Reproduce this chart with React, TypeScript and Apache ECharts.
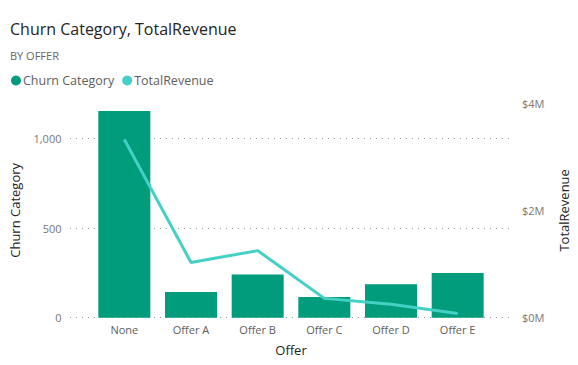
import React, { useEffect, useRef } from "react";
import * as echarts from "echarts";

const categories = ["None", "Offer A", "Offer B", "Offer C", "Offer D", "Offer E"];
const churnCategory = [1155, 144, 242, 116, 187, 250];
const totalRevenue = [3320000, 1030000, 1250000, 360000, 250000, 80000];
const leftTicks = [0, 500, 1000];
const rightTickLabels = ["$0M", "$2M", "$4M"];

const BAR = "#019C7C";
const LINE = "#45D0C6";
const FONT = "'Open Sans', 'Noto Sans', sans-serif";

export default function App() {
  const ref = useRef<HTMLDivElement>(null);
  useEffect(() => {
    if (!ref.current) return;
    const chart = echarts.init(ref.current, undefined, { renderer: "svg" });
    const gridTop = 103;
    const gridBottom = 47.3;
    chart.setOption({
      animation: false,
      textStyle: { fontFamily: FONT },
      title: {
        text: "Churn Category, TotalRevenue",
        subtext: "BY OFFER",
        left: 5,
        top: 16,
        itemGap: 13,
        textStyle: { fontSize: 16, fontWeight: "normal", color: "#252423", fontFamily: FONT },
        subtextStyle: { fontSize: 11, color: "#666666", fontFamily: FONT, fontWeight: "normal" },
      },
      legend: {
        left: 6,
        top: 69,
        icon: "circle",
        itemWidth: 10,
        itemHeight: 10,
        itemGap: 8,
        textStyle: { fontSize: 12.5, color: "#605E5C", fontFamily: FONT, padding: [0, 0, 0, -3] },
        data: ["Churn Category", "TotalRevenue"],
      },
      grid: [
        { left: 89.5, right: 86, top: gridTop, bottom: gridBottom, containLabel: false },
        { left: 70, right: 69, top: 138.7, bottom: gridBottom, containLabel: false },
      ],
      xAxis: [
        {
          type: "category",
          gridIndex: 0,
          data: categories,
          axisLine: { show: false },
          axisTick: { show: false },
          axisLabel: { color: "#605E5C", fontSize: 11, margin: 6 },
          name: "Offer",
          nameLocation: "middle",
          nameGap: 26,
          nameTextStyle: { color: "#252423", fontSize: 13 },
        },
        {
          type: "value",
          gridIndex: 1,
          show: false,
        },
      ],
      yAxis: [
        {
          type: "value",
          gridIndex: 0,
          min: 0,
          max: 1200,
          interval: 500,
          axisLine: { show: false },
          axisTick: { show: false },
          splitLine: { show: false },
          axisLabel: {
            color: "#777",
            fontSize: 11,
            margin: 29.5,
            showMaxLabel: false,
            formatter: (v: number) => (leftTicks.includes(v) ? v.toLocaleString("en-US") : ""),
          },
          name: "Churn Category",
          nameLocation: "middle",
          nameGap: 70,
          nameTextStyle: { color: "#252423", fontSize: 13 },
        },
        {
          type: "value",
          gridIndex: 0,
          position: "right",
          min: 0,
          max: 4000000,
          interval: 2000000,
          axisLine: { show: false },
          axisTick: { show: false },
          splitLine: { show: false },
          axisLabel: {
            color: "#777",
            fontSize: 11,
            margin: 31,
            formatter: (v: number) => rightTickLabels[Math.round(v / 2000000)] ?? "",
          },
          name: "TotalRevenue",
          nameLocation: "middle",
          nameGap: 66,
          nameTextStyle: { color: "#252423", fontSize: 13 },
        },
        {
          type: "value",
          gridIndex: 1,
          min: 0,
          max: 1000,
          interval: 500,
          axisLine: { show: false },
          axisTick: { show: false },
          axisLabel: { show: false },
          splitLine: { show: true, lineStyle: { color: "#9a9a9a", type: [1, 5], width: 1 } },
        },
      ],
      series: [
        {
          name: "Churn Category",
          type: "bar",
          xAxisIndex: 0,
          yAxisIndex: 0,
          data: churnCategory,
          barCategoryGap: "22%",
          itemStyle: { color: BAR },
          z: 3,
        },
        {
          name: "TotalRevenue",
          type: "line",
          xAxisIndex: 0,
          yAxisIndex: 1,
          data: totalRevenue,
          showSymbol: false,
          symbol: "circle",
          lineStyle: { color: LINE, width: 3 },
          itemStyle: { color: LINE },
          z: 4,
        },
      ],
    });
    return () => chart.dispose();
  }, []);
  return (
    <div
      ref={ref}
      style={{ position: "fixed", left: 0, top: 0, width: 578, height: 365, background: "#fff" }}
    />
  );
}
